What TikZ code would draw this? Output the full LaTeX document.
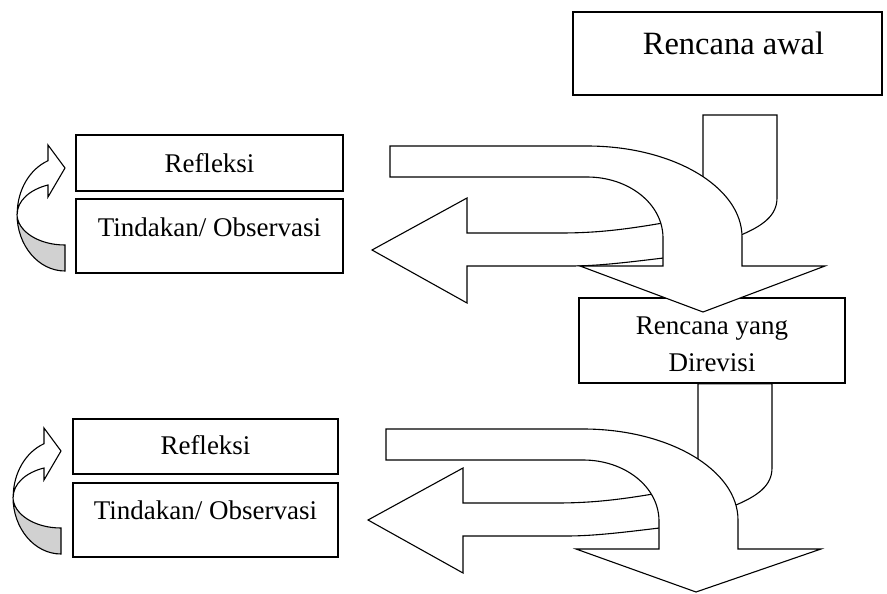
\documentclass[tikz,border=0pt]{standalone}
\usepackage{fontspec}
\setmainfont{Liberation Serif}
\tikzset{
  box/.style={draw, line width=1.5pt, inner sep=0pt, anchor=base, font=\fontsize{27}{37}\selectfont},
  band/.style={draw, fill=white, line width=1.1pt},
  back/.style={draw, fill=black!18, line width=1.1pt}
}
\begin{document}
\begin{tikzpicture}[x=1pt,y=-1pt]
\useasboundingbox (0,0) rectangle (887,594);
\node[box, minimum width=309pt, text height=43pt, text depth=40pt, font=\fontsize{32.5}{40}\selectfont] (awal) at (727.5,55) {\hspace*{12pt}Rencana awal};
\node[box, minimum width=266pt, text height=73pt, text depth=12pt, align=center] (revisi) at (712,371) {Rencana yang\\Direvisi};
\node[box, minimum width=267pt, text height=37pt, text depth=19pt] (refleksiA) at (209.5,172) {Refleksi};
\node[box, minimum width=267pt, text height=37pt, text depth=37pt] (tindakanA) at (209.5,236) {Tindakan/ Observasi};
\node[box, minimum width=265pt, text height=35pt, text depth=20pt] (refleksiB) at (205.5,454) {Refleksi};
\node[box, minimum width=265pt, text height=36pt, text depth=38pt] (tindakanB) at (205.5,519) {Tindakan/ Observasi};

\draw[band] (703,195) -- (703,115) -- (777,115) -- (777,198) .. controls (777,216) and (762,226) .. (741,235) -- (700,240) -- cycle;
\draw[band] (372,250) -- (467,198) -- (467,233) -- (560,233) .. controls (600,233) and (630,229) .. (680,220) -- (680,256) .. controls (630,262) and (600,266) .. (570,266) -- (467,266) -- (467,303) -- cycle;
\draw[band] (390,146) -- (587,146) .. controls (673,146) and (742,187) .. (742,237) -- (742,266) -- (825,266) -- (703,312) -- (580,266) -- (663,266) -- (663,238) .. controls (663,204) and (629,177) .. (587,177) -- (390,177) -- cycle;

\draw[band] (698,470) -- (revisi.south -| 698,0) -- (revisi.south -| 772,0) -- (772,468) .. controls (772,486) and (757,496) .. (736,505) -- (695,510) -- cycle;
\begin{scope}[shift={(-4,270)}]
\draw[band] (372,250) -- (467,198) -- (467,233) -- (560,233) .. controls (600,233) and (630,229) .. (680,220) -- (680,256) .. controls (630,262) and (600,266) .. (570,266) -- (467,266) -- (467,303) -- cycle;
\end{scope}
\begin{scope}[shift={(-4,283)}]
\draw[band] (390,146) -- (587,146) .. controls (673,146) and (742,187) .. (742,237) -- (742,266) -- (825,266) -- (700,309) -- (580,266) -- (663,266) -- (663,238) .. controls (663,204) and (629,177) .. (587,177) -- (390,177) -- cycle;
\end{scope}

\draw[back] (17,214) arc[start angle=180, end angle=270, x radius=48pt, y radius=31pt] -- (65,271) arc[start angle=270, end angle=180, x radius=48pt, y radius=57pt] -- cycle;
\draw[band] (48,161) -- (48,145) -- (65,168) -- (48,197) -- (48,185) arc[start angle=111, end angle=180, x radius=48pt, y radius=31pt] arc[start angle=180, end angle=111, x radius=48pt, y radius=57pt] -- cycle;
\begin{scope}[shift={(-4,283)}]
\draw[back] (17,214) arc[start angle=180, end angle=270, x radius=48pt, y radius=31pt] -- (65,271) arc[start angle=270, end angle=180, x radius=48pt, y radius=57pt] -- cycle;
\draw[band] (48,161) -- (48,145) -- (65,168) -- (48,197) -- (48,185) arc[start angle=111, end angle=180, x radius=48pt, y radius=31pt] arc[start angle=180, end angle=111, x radius=48pt, y radius=57pt] -- cycle;
\end{scope}
\end{tikzpicture}
\end{document}
